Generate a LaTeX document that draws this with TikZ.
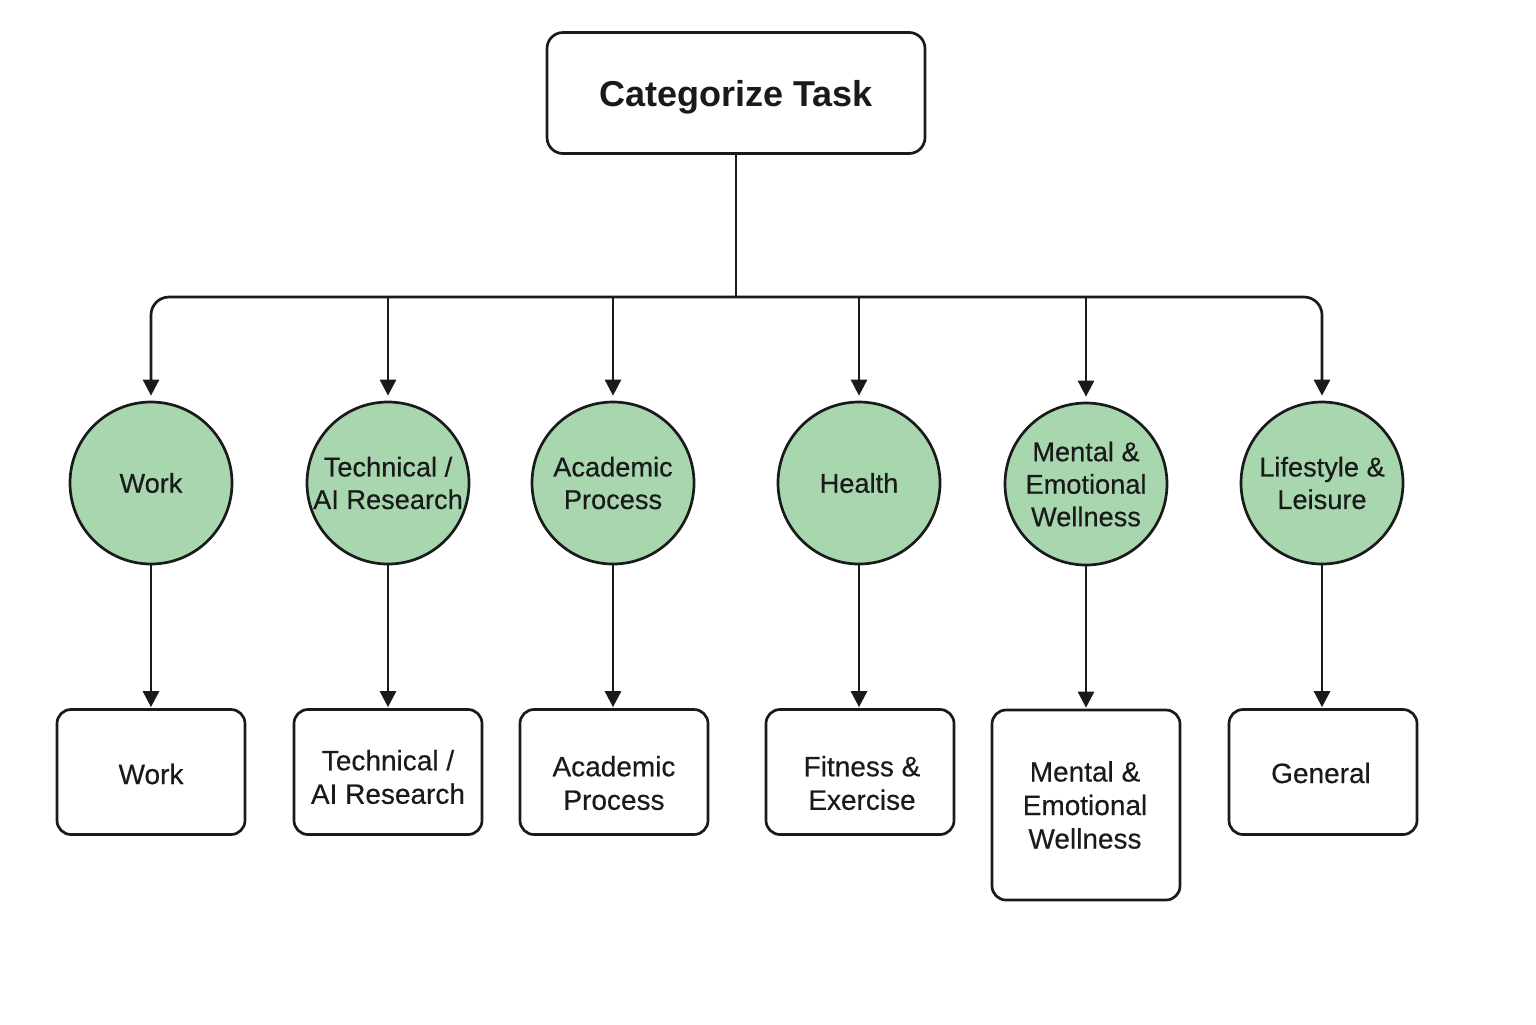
\documentclass[tikz,border=0pt]{standalone}
\usepackage{fontspec}
\setmainfont{Liberation Sans}
\newfontfamily\medfont[FakeBold=0.4]{Liberation Sans}
\usetikzlibrary{arrows.meta}
\definecolor{catgreen}{RGB}{168,214,174}
\definecolor{ink}{RGB}{26,26,26}
\begin{document}
\begin{tikzpicture}[x=0.5pt,y=-0.5pt,
  line width=1.35pt,
  topbox/.style={draw=ink, rounded corners=8pt, line width=1.35pt, align=center,
    inner sep=0pt, minimum width=189pt, minimum height=60.5pt,
    text height=13pt, text depth=0pt,
    font=\fontsize{18}{22}\selectfont\bfseries, text=ink},
  leaf/.style={draw=ink, rounded corners=7pt, line width=1.35pt,
    inner sep=0pt, minimum width=94pt, minimum height=62.5pt},
  lbl/.style={align=center, inner sep=0pt,
    font=\medfont\fontsize{14}{16.75}\selectfont, text=ink},
  cat/.style={circle, draw=ink, fill=catgreen, line width=1.35pt, minimum size=81pt,
    inner sep=0pt, align=center, font=\medfont\fontsize{13.6}{16.25}\selectfont, text=ink},
  arr/.style={-{Triangle[length=8pt,width=8pt]}, draw=ink, line width=1.35pt, shorten >=2.5pt},
  arrb/.style={arr, shorten >=0.5pt},
  link/.style={draw=ink, line width=1.35pt}]
\useasboundingbox (0,0) rectangle (1536,1024);

\node[topbox] (top) at (736,93) {Categorize Task};
\coordinate (bus) at (736,297);

\node[cat] (c1) at (151,483) {Work};
\node[cat] (c2) at (388,483) {Technical /\\AI Research};
\node[cat] (c3) at (613,483) {Academic\\Process};
\node[cat] (c4) at (859,483) {Health};
\node[cat] (c5) at (1086,484) {Mental \&\\Emotional\\Wellness};
\node[cat] (c6) at (1322,483) {Lifestyle \&\\Leisure};

\node[leaf] (b1) at (151,772) {};
\node[leaf] (b2) at (388,772) {};
\node[leaf] (b3) at (614,772) {};
\node[leaf] (b4) at (860,772) {};
\node[leaf, minimum height=95pt] (b5) at (1086,805) {};
\node[leaf] (b6) at (1323,772) {};

\node[lbl] (t1) at (151,774) {Work};
\node[lbl] (t2) at (388,777) {Technical /\\AI Research};
\node[lbl] (t3) at (614,783) {Academic\\Process};
\node[lbl] (t4) at (862,783) {Fitness \&\\Exercise};
\node[lbl] (t5) at (1085,805) {Mental \&\\Emotional\\Wellness};
\node[lbl] (t6) at (1321,773) {General};

\draw[link] (top.south) -- (bus);
\draw[arr, rounded corners=9pt] (bus) -| (c1.north);
\draw[arr, rounded corners=9pt] (bus) -| (c6.north);
\draw[arr] (bus -| c2.north) -- (c2.north);
\draw[arr] (bus -| c3.north) -- (c3.north);
\draw[arr] (bus -| c4.north) -- (c4.north);
\draw[arr] (bus -| c5.north) -- (c5.north);

\draw[arrb] (c1.south) -- (c1.south |- b1.north);
\draw[arrb] (c2.south) -- (c2.south |- b2.north);
\draw[arrb] (c3.south) -- (c3.south |- b3.north);
\draw[arrb] (c4.south) -- (c4.south |- b4.north);
\draw[arrb] (c5.south) -- (c5.south |- b5.north);
\draw[arrb] (c6.south) -- (c6.south |- b6.north);
\end{tikzpicture}
\end{document}
